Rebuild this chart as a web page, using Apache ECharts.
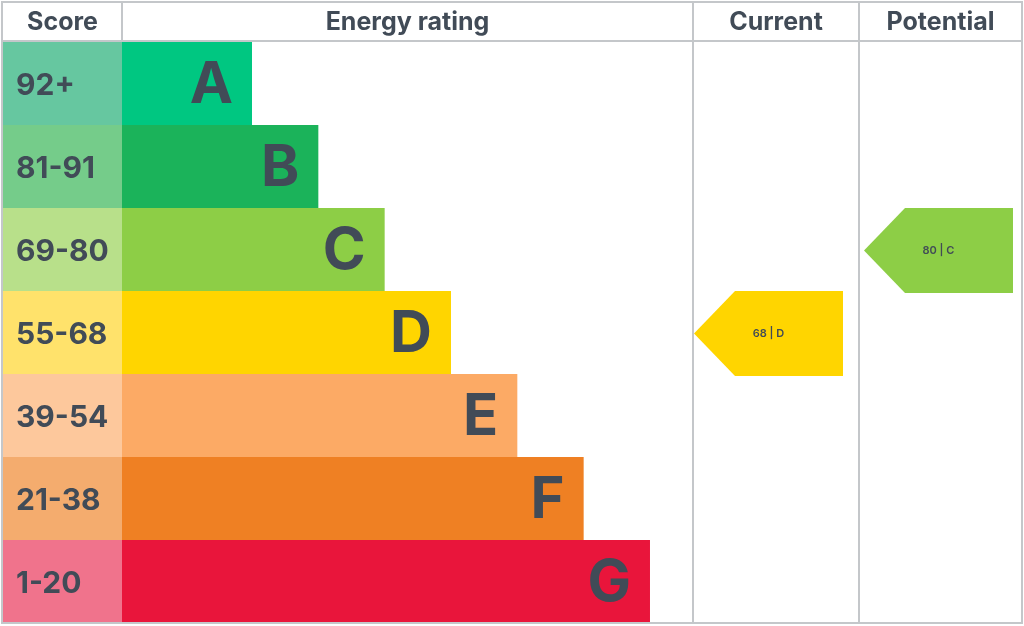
<!DOCTYPE html>
<html>
<head>
<meta charset="utf-8">
<script src="https://cdn.jsdelivr.net/npm/echarts@6/dist/echarts.min.js"></script>
<style>
html,body{margin:0;padding:0;background:#fff;}
#chart{width:1024px;height:626px;}
</style>
</head>
<body>
<div id="chart"></div>
<script>
// EPC bands, top to bottom
var bands = ['A', 'B', 'C', 'D', 'E', 'F', 'G'];
var scoreRanges = ['92+', '81-91', '69-80', '55-68', '39-54', '21-38', '1-20'];
var bandWidths = [2, 3, 4, 5, 6, 7, 8];
var currentScore = 68;
var currentBand = 'D';
var potentialScore = 80;
var potentialBand = 'C';
var headers = ['Score', 'Energy rating', 'Current', 'Potential'];

var bandColors = ['#00c781', '#1bb35a', '#8dce46', '#ffd500', '#fcaa65', '#ef8023', '#e9153b'];
var scoreColors = ['#66c7a0', '#75cc8a', '#b8e08a', '#ffe26b', '#fdc89c', '#f4ac6e', '#f0738c'];
var textColor = '#414b57';
var lineColor = '#c4c7ca';
var font = 'Inter';

var bodyTop = 42, bodyH = 581;
var cols = [
	{left: 3, width: 119},
	{left: 122, width: 571},
	{left: 693, width: 166},
	{left: 859, width: 163}
];

function hiddenX(i, max, min){
	return {type: 'value', gridIndex: i, min: min || 0, max: max, show: false};
}
function hiddenY(i){
	return {type: 'category', gridIndex: i, data: bands, inverse: true, show: false};
}

function arrowRender(inset){
	return function(params, api){
		var cs = params.coordSys;
		var idx = api.value(0);
		var c = api.coord([0, idx]);
		var h = api.size([0, 1])[1] + 2;
		var cy = c[1] + 1;
		var x0 = cs.x + inset;
		var x2 = x0 + 149;
		var x1 = x0 + 41;
		return {
			type: 'polygon',
			shape: {points: [[x0, cy], [x1, cy - h / 2], [x2, cy - h / 2], [x2, cy + h / 2], [x1, cy + h / 2]]},
			style: {fill: bandColors[idx]},
			textContent: {
				style: {
					text: api.value(1) + ' | ' + bands[idx],
					fill: textColor, fontSize: 11, fontWeight: 600, fontFamily: font
				}
			},
			textConfig: {position: 'inside'}
		};
	};
}

var scoreData = scoreRanges.map(function(s, i){
	return {value: 1, itemStyle: {color: scoreColors[i]}};
});
var bandData = bandWidths.map(function(w, i){
	return {value: w, itemStyle: {color: bandColors[i]}};
});

var headerGraphics = [];
cols.forEach(function(col, i){
	headerGraphics.push({
		type: 'text',
		x: col.left + col.width / 2, y: 22,
		style: {
			text: headers[i], fill: textColor, fontSize: 25, fontWeight: 'bold',
			fontFamily: font, align: 'center', verticalAlign: 'middle'
		}
	});
});
// table lines
headerGraphics.push(
	{type: 'rect', shape: {x: 2, y: 2, width: 1020, height: 621}, style: {fill: 'none', stroke: lineColor, lineWidth: 2}, z: 10},
	{type: 'line', shape: {x1: 2, y1: 41, x2: 1022, y2: 41}, style: {stroke: lineColor, lineWidth: 2}, z: 10},
	{type: 'line', shape: {x1: 122, y1: 2, x2: 122, y2: 41}, style: {stroke: lineColor, lineWidth: 2}, z: 10},
	{type: 'line', shape: {x1: 693, y1: 2, x2: 693, y2: 623}, style: {stroke: lineColor, lineWidth: 2}, z: 10},
	{type: 'line', shape: {x1: 859, y1: 2, x2: 859, y2: 623}, style: {stroke: lineColor, lineWidth: 2}, z: 10}
);

var chart = echarts.init(document.getElementById('chart'));
var option = {
	animation: false,
	backgroundColor: '#fff',
	grid: cols.map(function(col){
		return {left: col.left, top: bodyTop, width: col.width, height: bodyH};
	}),
	xAxis: [
		hiddenX(0, 1),
		hiddenX(1, 0.04 + 571 / 66.33, 0.04),
		hiddenX(2, 1),
		hiddenX(3, 1)
	],
	yAxis: [hiddenY(0), hiddenY(1), hiddenY(2), hiddenY(3)],
	graphic: headerGraphics,
	series: [
		{
			type: 'bar', xAxisIndex: 0, yAxisIndex: 0,
			data: scoreData, barCategoryGap: 0,
			label: {
				show: true, position: 'insideLeft', distance: 13, offset: [0, 2],
				formatter: function(p){ return scoreRanges[p.dataIndex]; },
				color: textColor, fontSize: 30, fontWeight: 'bold', fontFamily: font
			}
		},
		{
			type: 'bar', xAxisIndex: 1, yAxisIndex: 1,
			data: bandData, barCategoryGap: 0,
			label: {
				show: true, position: 'insideRight', distance: 19, offset: [0, 2],
				formatter: '{b}',
				color: textColor, fontSize: 58, fontWeight: 'bold', fontFamily: font
			}
		},
		{
			type: 'custom', xAxisIndex: 2, yAxisIndex: 2,
			renderItem: arrowRender(1),
			data: [[bands.indexOf(currentBand), currentScore]]
		},
		{
			type: 'custom', xAxisIndex: 3, yAxisIndex: 3,
			renderItem: arrowRender(5),
			data: [[bands.indexOf(potentialBand), potentialScore]]
		}
	]
};
chart.setOption(option);
</script>
</body>
</html>
